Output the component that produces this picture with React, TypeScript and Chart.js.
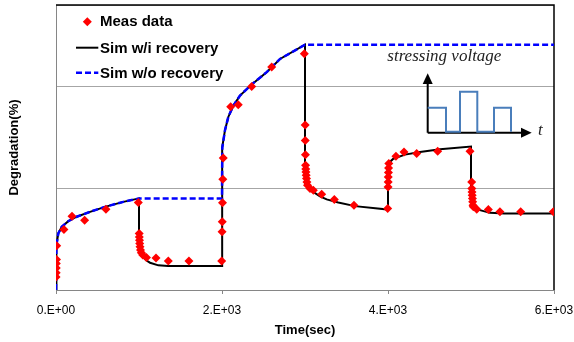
import React, { useEffect, useRef } from "react";
import { Chart, registerables } from "chart.js";

Chart.register(...registerables);

// ---- data ----
const xTickLabels = ["0.E+00", "2.E+03", "4.E+03", "6.E+03"];
const xTickValues = [0, 2000, 4000, 6000];

const legendLabels = ["Meas data", "Sim w/i recovery", "Sim w/o recovery"];
const axisTitleX = "Time(sec)";
const axisTitleY = "Degradation(%)";
const insetTitle = "stressing voltage";
const insetAxisLabel = "t";

const measTime = [
  1, 2, 3, 4, 6, 8, 96, 193, 345, 602, 992,
  1002, 1004, 1006, 1008, 1012, 1018, 1028, 1045, 1090, 1205, 1353, 1602, 1996,
  2001, 2003, 2006, 2010, 2015, 2105, 2196, 2358, 2599, 2992,
  3002, 3003, 3005, 3007, 3009, 3011, 3014, 3018, 3023, 3030, 3060, 3100, 3201, 3353, 3590, 3996,
  4001, 4002, 4003, 4005, 4007, 4010, 4096, 4193, 4346, 4599, 4988,
  5008, 5010, 5012, 5014, 5017, 5020, 5024, 5028, 5069, 5209, 5349, 5599, 5992,
];
const measDeg = [
  0.127, 0.17, 0.216, 0.26, 0.3, 0.434, 0.595, 0.725, 0.686, 0.794, 0.86,
  0.556, 0.52, 0.49, 0.458, 0.425, 0.392, 0.365, 0.343, 0.32, 0.314, 0.284, 0.284, 0.284,
  0.572, 0.67, 0.856, 1.088, 1.297, 1.8, 1.82, 2.0, 2.19, 2.32,
  1.62, 1.47, 1.33, 1.225, 1.19, 1.16, 1.127, 1.095, 1.062, 1.03, 0.997, 0.98, 0.94, 0.889, 0.833, 0.8,
  1.013, 1.062, 1.111, 1.154, 1.199, 1.242, 1.314, 1.356, 1.34, 1.363, 1.363,
  1.062, 0.997, 0.964, 0.931, 0.899, 0.866, 0.833, 0.817, 0.794, 0.79, 0.768, 0.768, 0.768,
];

const simRecTime = [
  0, 5, 28, 69, 148, 249, 410, 590, 811, 1000,
  1000, 1015, 1052, 1090, 1133, 1233, 1350, 2000,
  2000, 2002, 2004, 2036, 2076, 2136, 2217, 2358, 2538, 2699, 3000,
  3000, 3030, 3080, 3181, 3261, 3401, 3602, 4000,
  4000, 4064, 4205, 4386, 4627, 5000,
  5000, 5048, 5108, 5229, 5400, 6000,
];
const simRecDeg = [
  0, 0.44, 0.556, 0.62, 0.676, 0.72, 0.768, 0.817, 0.866, 0.9,
  0.43, 0.37, 0.32, 0.29, 0.268, 0.242, 0.235, 0.235,
  0.9, 1.2, 1.4, 1.57, 1.7, 1.81, 1.91, 2.02, 2.14, 2.27, 2.41,
  1.05, 1.0, 0.974, 0.92, 0.89, 0.86, 0.824, 0.79,
  1.24, 1.29, 1.33, 1.356, 1.382, 1.41,
  0.87, 0.817, 0.784, 0.758, 0.752, 0.752,
];

const simNoRecTime = [
  0, 5, 28, 69, 148, 249, 410, 590, 811, 1000, 2000,
  2002, 2004, 2036, 2076, 2136, 2217, 2358, 2538, 2699, 3000, 6000,
];
const simNoRecDeg = [
  0, 0.44, 0.556, 0.62, 0.676, 0.72, 0.768, 0.817, 0.866, 0.9, 0.9,
  1.2, 1.4, 1.57, 1.7, 1.81, 1.91, 2.02, 2.14, 2.27, 2.41, 2.41,
];

const zip = (t: number[], v: number[]) => t.map((x, i) => ({ x, y: v[i] }));

const FONT = "Liberation Sans";

const decorPlugin = {
  id: "decor",
  beforeDatasetsDraw(chart: any) {
    const { ctx, chartArea: a } = chart;
    ctx.save();
    ctx.strokeStyle = "#000";
    ctx.lineWidth = 1.5;
    ctx.beginPath();
    ctx.moveTo(a.left, a.top);
    ctx.lineTo(a.right, a.top);
    ctx.lineTo(a.right, a.bottom);
    ctx.stroke();
    ctx.restore();
  },
  afterDraw(chart: any) {
    const { ctx, chartArea: a } = chart;
    const L = a.left;
    const T = a.top;
    ctx.save();
    // legend
    ctx.fillStyle = "#ff0000";
    const dx = L + 31.3, dy = T + 16.7, r = 4.5;
    ctx.beginPath();
    ctx.moveTo(dx - r, dy);
    ctx.lineTo(dx, dy - r);
    ctx.lineTo(dx + r, dy);
    ctx.lineTo(dx, dy + r);
    ctx.closePath();
    ctx.fill();

    ctx.strokeStyle = "#000";
    ctx.lineWidth = 2;
    ctx.beginPath();
    ctx.moveTo(L + 20, T + 42.7);
    ctx.lineTo(L + 42.3, T + 42.7);
    ctx.stroke();

    ctx.strokeStyle = "#0000ff";
    ctx.lineWidth = 2.5;
    ctx.setLineDash([6, 3]);
    ctx.beginPath();
    ctx.moveTo(L + 20, T + 67.7);
    ctx.lineTo(L + 42.3, T + 67.7);
    ctx.stroke();
    ctx.setLineDash([]);

    ctx.fillStyle = "#000";
    ctx.font = `bold 15px "${FONT}"`;
    ctx.textBaseline = "alphabetic";
    ctx.textAlign = "left";
    ctx.fillText(legendLabels[0], L + 44, T + 20.7);
    ctx.fillText(legendLabels[1], L + 44, T + 47.5);
    ctx.fillText(legendLabels[2], L + 44, T + 72.5);

    // inset: stressing voltage sketch
    ctx.font = `italic 17px "Liberation Serif"`;
    ctx.fillStyle = "#222";
    ctx.fillText(insetTitle, L + 331.3, T + 55.7);
    ctx.fillText(insetAxisLabel, L + 482, T + 130);

    const ox = L + 371.7, oy = T + 127.7;
    ctx.strokeStyle = "#000";
    ctx.fillStyle = "#000";
    ctx.lineWidth = 2;
    ctx.beginPath();
    ctx.moveTo(ox, oy);
    ctx.lineTo(ox, T + 76);
    ctx.moveTo(ox, oy);
    ctx.lineTo(L + 468, oy);
    ctx.stroke();
    // arrow heads
    ctx.beginPath();
    ctx.moveTo(ox, T + 68.3);
    ctx.lineTo(ox - 5, T + 79);
    ctx.lineTo(ox + 5, T + 79);
    ctx.closePath();
    ctx.fill();
    ctx.beginPath();
    ctx.moveTo(L + 475.7, oy);
    ctx.lineTo(L + 465, oy - 5);
    ctx.lineTo(L + 465, oy + 5);
    ctx.closePath();
    ctx.fill();

    // pulses
    const px = [371.7, 390, 404, 421.3, 438, 455].map((v) => L + v);
    const lo = T + 126.7, mid = T + 102.7, hi = T + 86.7;
    ctx.strokeStyle = "#4a7ebb";
    ctx.lineWidth = 2;
    ctx.beginPath();
    ctx.moveTo(px[0], mid);
    ctx.lineTo(px[1], mid);
    ctx.lineTo(px[1], lo);
    ctx.lineTo(px[2], lo);
    ctx.lineTo(px[2], hi);
    ctx.lineTo(px[3], hi);
    ctx.lineTo(px[3], lo);
    ctx.lineTo(px[4], lo);
    ctx.lineTo(px[4], mid);
    ctx.lineTo(px[5], mid);
    ctx.lineTo(px[5], lo);
    ctx.stroke();
    ctx.restore();
  },
};

export default function App() {
  const ref = useRef<HTMLCanvasElement | null>(null);
  useEffect(() => {
    if (!ref.current) return;
    const chart = new Chart(ref.current, {
      type: "scatter",
      data: {
        datasets: [
          {
            label: legendLabels[0],
            data: zip(measTime, measDeg),
            pointStyle: "rectRot",
            pointRadius: 4.5,
            pointBorderWidth: 0,
            backgroundColor: "#ff0000",
            borderColor: "#ff0000",
            showLine: false,
            order: 0,
          },
          {
            label: legendLabels[2],
            data: zip(simNoRecTime, simNoRecDeg),
            showLine: true,
            borderColor: "#0000ff",
            borderWidth: 2.5,
            borderDash: [6, 3],
            pointRadius: 0,
            tension: 0,
            order: 1,
          },
          {
            label: legendLabels[1],
            data: zip(simRecTime, simRecDeg),
            showLine: true,
            borderColor: "#000000",
            borderWidth: 2,
            pointRadius: 0,
            tension: 0,
            order: 2,
          },
        ],
      },
      options: {
        responsive: false,
        animation: false,
        devicePixelRatio: 1,
        layout: { padding: { left: 0, top: 5, right: 20, bottom: 0 } },
        plugins: { legend: { display: false }, tooltip: { enabled: false } },
        scales: {
          x: {
            type: "linear",
            min: 0,
            max: 6000,
            afterBuildTicks: (scale: any) => {
              scale.ticks = xTickValues.map((v) => ({ value: v }));
            },
            afterFit: (scale: any) => {
              scale.height = 52;
              scale.paddingLeft = 0;
              scale.paddingRight = 0;
            },
            ticks: {
              callback: (_v: any, i: number) => xTickLabels[i],
              font: { family: FONT, size: 12 },
              color: "#000",
              padding: 9,
              maxRotation: 0,
            },
            grid: {
              drawOnChartArea: false,
              drawTicks: true,
              tickLength: 4,
              color: "#868686",
            },
            border: { color: "#868686", width: 1 },
            title: {
              display: true,
              text: axisTitleX,
              font: { family: FONT, size: 13, weight: "bold" },
              color: "#000",
              padding: { top: 0, bottom: 4 },
            },
          },
          y: {
            type: "linear",
            min: 0,
            max: 2.8,
            afterFit: (scale: any) => {
              scale.width = 56;
              scale.paddingTop = 0;
              scale.paddingBottom = 0;
            },
            ticks: { display: false, stepSize: 1 },
            grid: { color: "#a6a6a6", drawTicks: false },
            border: { color: "#868686", width: 1 },
            title: {
              display: true,
              text: axisTitleY,
              font: { family: FONT, size: 13, weight: "bold" },
              color: "#000",
              padding: { top: 7, bottom: 0 },
            },
          },
        },
      },
      plugins: [decorPlugin],
    } as any);
    return () => chart.destroy();
  }, []);
  return (
    <div style={{ position: "absolute", left: 0, top: 0, width: 574, height: 342 }}>
      <canvas ref={ref} width={574} height={342} style={{ display: "block" }} />
    </div>
  );
}
